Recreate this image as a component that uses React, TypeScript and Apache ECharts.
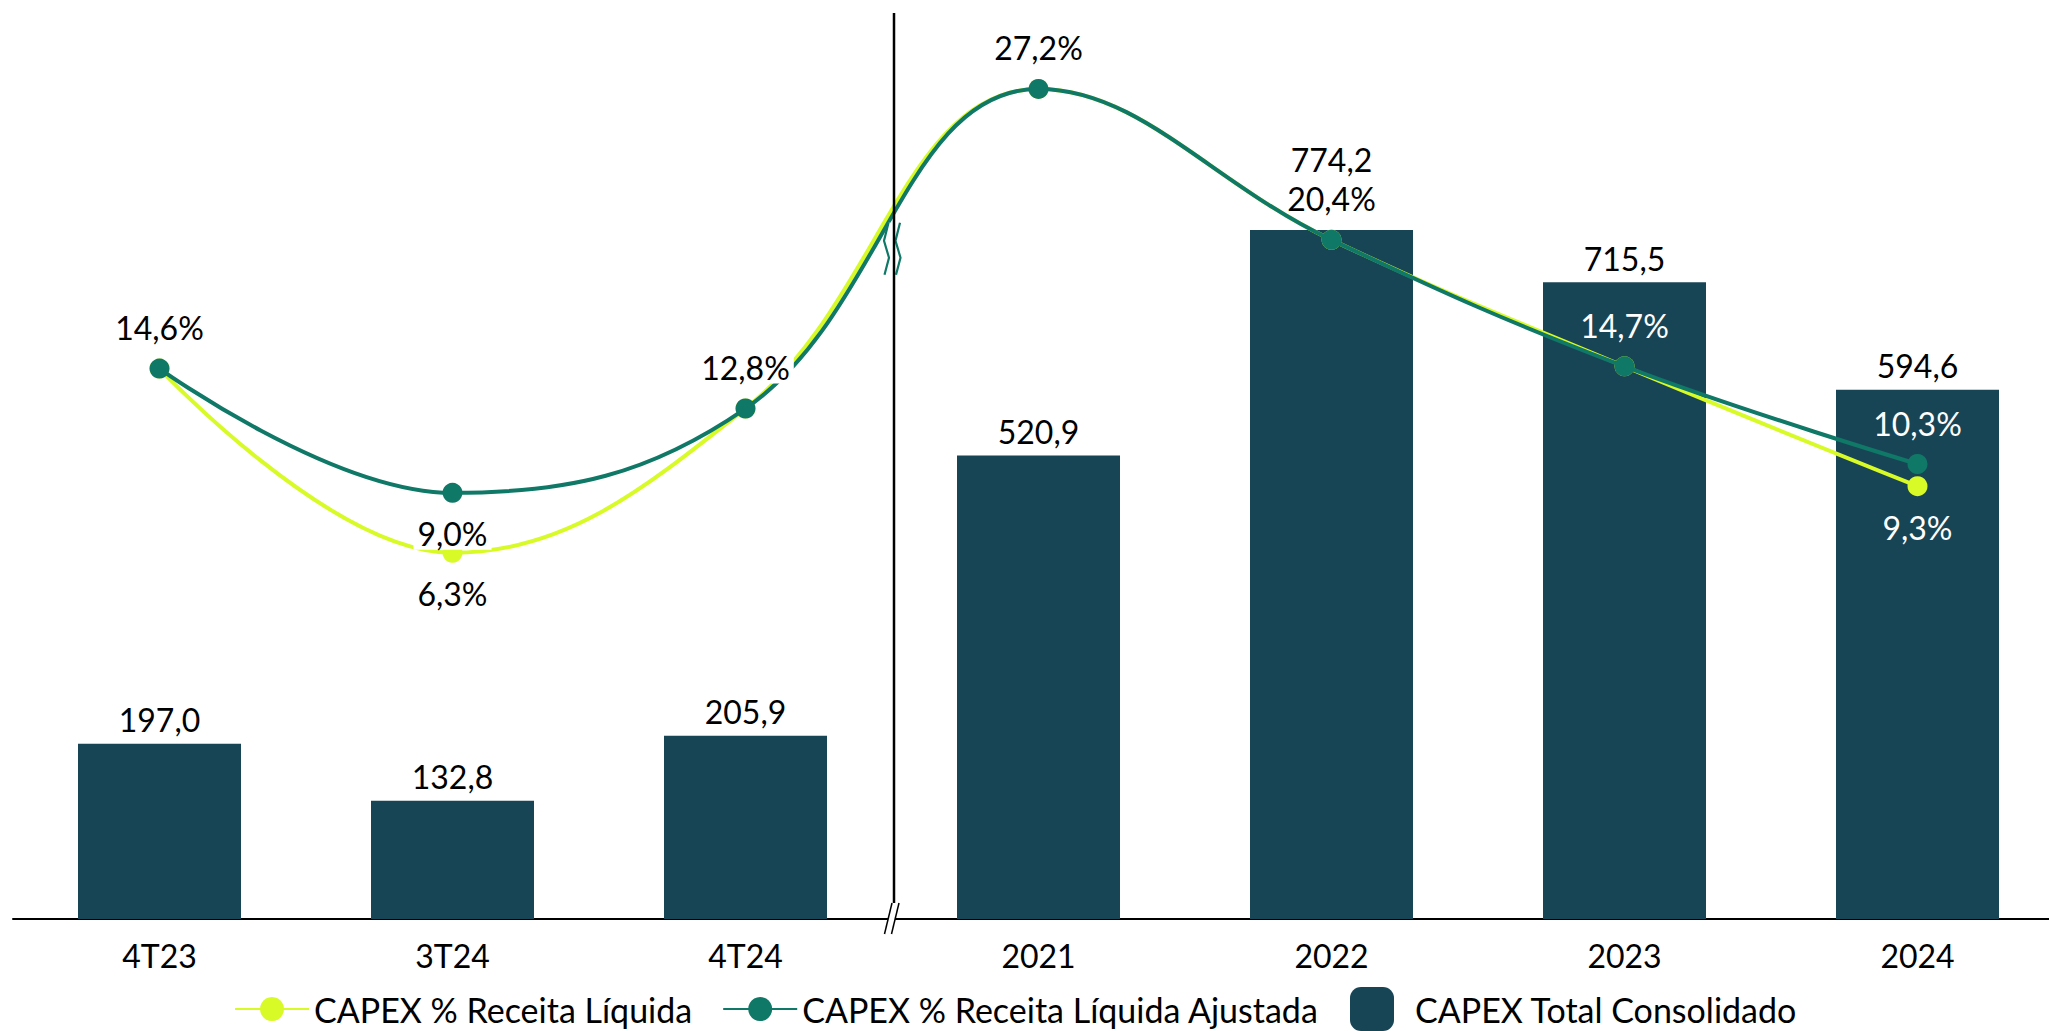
import React, { useEffect, useRef } from "react";
import * as echarts from "echarts";

const categories = ["4T23", "3T24", "4T24", "2021", "2022", "2023", "2024"];
const capexTotal = [197.0, 132.8, 205.9, 520.9, 774.2, 715.5, 594.6];
const capexPctReceita = [14.6, 6.3, 12.8, 27.2, 20.4, 14.7, 9.3];
const capexPctAjustada = [14.6, 9.0, 12.8, 27.2, 20.4, 14.7, 10.3];

const seriesNames = [
  "CAPEX % Receita Líquida",
  "CAPEX % Receita Líquida Ajustada",
  "CAPEX Total Consolidado",
];

// label display specs (which labels are shown, where, colour)
const receitaLabels: (null | { pos: string; color: string })[] = [
  null,
  { pos: "bottom", color: "#000" },
  null,
  null,
  null,
  null,
  { pos: "bottom", color: "#fff" },
];
const ajustadaLabels: (null | { pos: string; color: string; bg?: boolean })[] = [
  { pos: "top", color: "#000" },
  { pos: "bottom", color: "#000", bg: true },
  { pos: "top", color: "#000", bg: true },
  { pos: "top", color: "#000" },
  { pos: "top", color: "#000" },
  { pos: "top", color: "#fff" },
  { pos: "top", color: "#fff" },
];
const barLabelRaise = [0, 0, 0, 0, 46, 0, 0];

const FONT = "Lato, 'Open Sans', sans-serif";
const FS = 32;
const BAR = "#184556";
const TEAL = "#0f7867";
const LIME = "#d8fa26";

const fmt = (v: number, pct: boolean) =>
  v.toFixed(1).replace(".", ",") + (pct ? "%" : "");

export default function App() {
  const ref = useRef<HTMLDivElement>(null);
  useEffect(() => {
    if (!ref.current) return;
    const chart = echarts.init(ref.current, null, { renderer: "svg" });
    const lineData = (vals: number[], specs: any[]) =>
      vals.map((v, i) => {
        const s = specs[i];
        if (!s) return { value: v, label: { show: false } };
        return {
          value: v,
          label: {
            show: true,
            position: s.pos,
            distance: 15,
            color: s.color,
            fontSize: FS,
            fontFamily: FONT,
            formatter: () => fmt(v, true),
            backgroundColor: s.bg ? "#fff" : "transparent",
            padding: s.bg ? [0, 4, 0, 4] : 0,
          },
        };
      });
    const option: any = {
      animation: false,
      backgroundColor: "#fff",
      grid: { left: 13, right: 0, top: 29, bottom: 112, containLabel: false },
      legend: [
        {
          data: [seriesNames[0], seriesNames[1]],
          left: 234,
          top: 991,
          itemWidth: 74,
          itemHeight: 30,
          itemGap: 30,
          padding: 0,
          textStyle: { fontSize: 34, fontFamily: FONT, color: "#000", lineHeight: 36 },
        },
        {
          data: [seriesNames[2]],
          left: 1350,
          top: 987,
          itemWidth: 44,
          itemHeight: 44,
          padding: 0,
          textStyle: {
            fontSize: 34,
            fontFamily: FONT,
            color: "#000",
            lineHeight: 36,
            padding: [0, 0, 0, 16],
          },
        },
      ],
      xAxis: {
        type: "category",
        data: categories,
        boundaryGap: true,
        axisLine: { show: true, lineStyle: { color: "#000", width: 2 } },
        axisTick: { show: false },
        axisLabel: { color: "#000", fontSize: 32, fontFamily: FONT, margin: 20 },
        splitLine: { show: false },
      },
      yAxis: [
        { type: "value", min: 0, max: 1000, show: false, splitLine: { show: false } },
        { type: "value", min: -10.2, max: 29.9, show: false, splitLine: { show: false } },
      ],
      series: [
        {
          name: seriesNames[2],
          type: "bar",
          yAxisIndex: 0,
          barWidth: 163,
          itemStyle: { color: BAR },
          data: capexTotal.map((v, i) => ({
            value: v,
            label: {
              show: true,
              position: "top",
              distance: 8,
              offset: [0, -barLabelRaise[i]],
              color: "#000",
              fontSize: FS,
              fontFamily: FONT,
              formatter: () => fmt(v, false),
            },
          })),
          z: 1,
        },
        {
          name: seriesNames[0],
          type: "line",
          yAxisIndex: 1,
          smooth: 0.4,
          symbol: "circle",
          symbolSize: 20,
          lineStyle: { color: LIME, width: 4 },
          itemStyle: { color: LIME },
          data: lineData(capexPctReceita, receitaLabels),
          z: 3,
        },
        {
          name: seriesNames[1],
          type: "line",
          yAxisIndex: 1,
          smooth: 0.4,
          symbol: "circle",
          symbolSize: 20,
          lineStyle: { color: TEAL, width: 4 },
          itemStyle: { color: TEAL },
          data: lineData(capexPctAjustada, ajustadaLabels),
          z: 4,
        },
      ],
    };
    chart.setOption(option);

    const x2 = chart.convertToPixel({ xAxisIndex: 0 }, 2) as number;
    const x3 = chart.convertToPixel({ xAxisIndex: 0 }, 3) as number;
    const bx = (x2 + x3) / 2;
    const by = chart.convertToPixel(
      { yAxisIndex: 1 },
      (capexPctAjustada[2] + capexPctAjustada[3]) / 2
    ) as number;
    const ay = chart.convertToPixel({ yAxisIndex: 0 }, 0) as number;

    const leftZ = [
      [bx - 3.5, by - 26],
      [bx - 8, by - 8],
      [bx - 3, by + 9],
      [bx - 7.5, by + 26],
    ];
    const rightZ = [
      [bx + 8, by - 26],
      [bx + 3.5, by - 8],
      [bx + 8.5, by + 9],
      [bx + 4, by + 26],
    ];
    chart.setOption({
      graphic: [
        {
          type: "polygon",
          z: 100,
          shape: { points: [...leftZ, ...rightZ.slice().reverse()] },
          style: { fill: "#fff" },
        },
        {
          type: "polyline",
          z: 101,
          shape: { points: leftZ },
          style: { stroke: TEAL, lineWidth: 2.2, fill: "none" },
        },
        {
          type: "polyline",
          z: 101,
          shape: { points: rightZ },
          style: { stroke: TEAL, lineWidth: 2.2, fill: "none" },
        },
        {
          type: "line",
          z: 102,
          shape: { x1: bx + 2, y1: 13, x2: bx + 2, y2: ay - 16 },
          style: { stroke: "#000", lineWidth: 2.5 },
        },
        {
          type: "polygon",
          z: 102,
          shape: {
            points: [
              [bx, ay - 16],
              [bx + 7, ay - 16],
              [bx - 0.5, ay + 15],
              [bx - 7.5, ay + 15],
            ],
          },
          style: { fill: "#fff" },
        },
        {
          type: "line",
          z: 103,
          shape: { x1: bx, y1: ay - 16, x2: bx - 7.5, y2: ay + 15 },
          style: { stroke: "#000", lineWidth: 1.5 },
        },
        {
          type: "line",
          z: 103,
          shape: { x1: bx + 7, y1: ay - 16, x2: bx - 0.5, y2: ay + 15 },
          style: { stroke: "#000", lineWidth: 1.5 },
        },
      ],
    });
    return () => chart.dispose();
  }, []);
  return (
    <div
      style={{
        position: "fixed",
        left: 0,
        top: 0,
        width: 2049,
        height: 1031,
        overflow: "hidden",
        background: "#fff",
      }}
    >
      <div ref={ref} style={{ width: 2064, height: 1031 }} />
    </div>
  );
}
